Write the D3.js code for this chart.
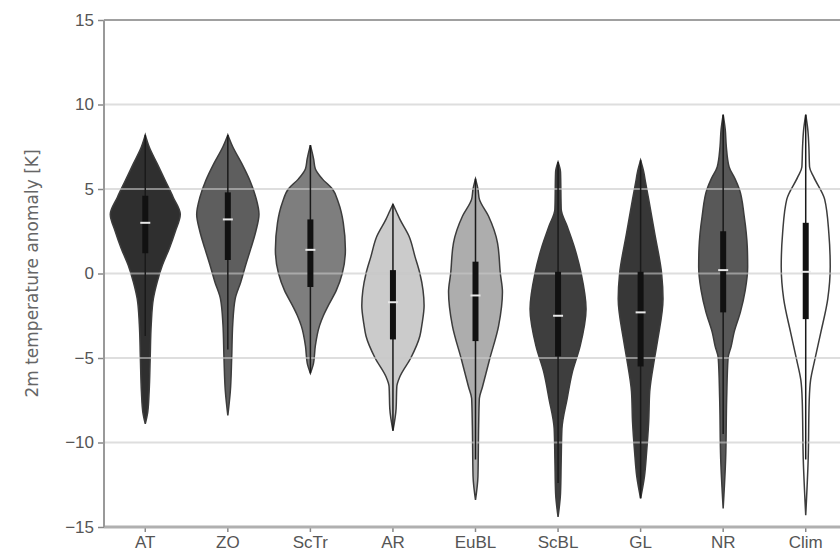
<!DOCTYPE html>
<html>
<head>
<meta charset="utf-8">
<script src="https://cdn.jsdelivr.net/npm/d3@7"></script>
<style>
  body { margin: 0; background: #fff; }
  svg { display: block; font-family: "DejaVu Sans", sans-serif; }
</style>
</head>
<body>
<div id="chart"></div>
<script>
// regimes on the x axis
const regimes = ['AT', 'ZO', 'ScTr', 'AR', 'EuBL', 'ScBL', 'GL', 'NR', 'Clim'];
const fills = ['#2f2f2f', '#5e5e5e', '#7e7e7e', '#cbcbcb', '#adadad', '#3e3e3e', '#373737', '#585858', '#ffffff'];

// violin outlines: [anomaly K, relative density]
const profAT = [[8.2,0],[7.5,0.11],[6.5,0.34],[5.5,0.57],[4.5,0.8],[3.5,1],[2.5,0.86],[1.5,0.69],[0.5,0.49],[-0.5,0.34],[-1.5,0.23],[-3,0.17],[-5,0.14],[-7,0.11],[-8.2,0.07],[-8.9,0]];
const profZO = [[8.2,0],[7.5,0.14],[6.5,0.4],[5.5,0.63],[4.5,0.8],[3.5,0.89],[2.5,0.8],[1.5,0.66],[0.5,0.51],[-0.5,0.37],[-1.5,0.21],[-3,0.14],[-5,0.11],[-7,0.07],[-8.4,0]];
const profScTr = [[7.6,0],[6.8,0.09],[6.2,0.14],[5.6,0.34],[5,0.63],[4.2,0.8],[3,0.94],[1.4,1],[0,0.91],[-1,0.74],[-1.9,0.51],[-2.5,0.37],[-3.1,0.26],[-4.3,0.14],[-5.3,0.09],[-5.9,0]];
const profAR = [[4.1,0],[3.7,0.09],[3.2,0.2],[2.2,0.46],[1,0.63],[0,0.77],[-1,0.86],[-1.9,0.89],[-3,0.83],[-3.7,0.77],[-5,0.51],[-6.1,0.2],[-6.7,0.11],[-8,0.09],[-9.3,0]];
const profEuBL = [[5.6,0],[5,0.07],[4.4,0.11],[3.4,0.37],[1.8,0.63],[0,0.71],[-1.1,0.77],[-3.1,0.66],[-5.1,0.4],[-6.7,0.2],[-7.4,0.11],[-9,0.09],[-12,0.07],[-13.4,0]];
const profScBL = [[6.6,0],[6,0.07],[3.8,0.09],[2.8,0.26],[1.6,0.46],[0,0.66],[-2.1,0.8],[-4.3,0.63],[-5.9,0.4],[-7.4,0.26],[-9.2,0.11],[-11,0.09],[-13,0.07],[-14.4,0]];
const profGL = [[6.7,0],[6,0.09],[5.4,0.14],[4.4,0.23],[2.4,0.4],[0,0.6],[-1.5,0.64],[-3.9,0.49],[-5,0.4],[-7,0.26],[-8.8,0.23],[-10.6,0.17],[-12,0.11],[-13.3,0]];
const profNR = [[9.4,0],[8.5,0.06],[7.5,0.09],[6.3,0.17],[5.6,0.34],[5,0.46],[3.4,0.6],[1.5,0.69],[0.4,0.7],[-1,0.63],[-2.3,0.49],[-3.5,0.31],[-4.3,0.23],[-5,0.14],[-7.4,0.1],[-11,0.07],[-13.9,0]];
const profClim = [[9.4,0],[8.5,0.06],[7.5,0.09],[6.3,0.11],[5.7,0.23],[4.4,0.54],[2.4,0.66],[0.4,0.7],[-1.5,0.63],[-3.5,0.43],[-5.1,0.26],[-6.3,0.14],[-7.5,0.1],[-11,0.07],[-14.3,0]];
const profiles = [profAT, profZO, profScTr, profAR, profEuBL, profScBL, profGL, profNR, profClim];

// inner box plot values
const q1 = [1.2, 0.8, -0.8, -3.9, -4.0, -4.9, -5.5, -2.3, -2.7];
const q3 = [4.6, 4.8, 3.2, 0.2, 0.7, 0.1, 0.1, 2.5, 3.0];
const medians = [3.0, 3.2, 1.4, -1.7, -1.3, -2.5, -2.3, 0.2, 0.1];
const whiskLo = [-3.7, -4.5, -5.9, -9.3, -11.0, -12.4, -13.3, -9.5, -11.0];
const whiskHi = [8.2, 8.2, 7.6, 4.1, 5.6, 6.6, 6.7, 9.4, 9.4];

const yTicks = [-15, -10, -5, 0, 5, 10, 15];

const width = 840, height = 560;
const margin = { top: 20, right: -7, bottom: 33, left: 104 };

const svg = d3.select('#chart').append('svg')
    .attr('width', width)
    .attr('height', height);

const y = d3.scaleLinear()
    .domain([-15, 15])
    .range([height - margin.bottom, margin.top]);

const x = d3.scaleBand()
    .domain(regimes)
    .range([margin.left, width - margin.right]);

const w = d3.scaleLinear().domain([0, 1]).range([0, 35]);

// violins
regimes.forEach((r, i) => {
    const cx = x(r) + x.bandwidth() / 2;
    const area = d3.area()
        .y(d => y(d[0]))
        .x0(d => cx - w(d[1]))
        .x1(d => cx + w(d[1]))
        .curve(d3.curveMonotoneY);
    svg.append('path')
        .datum(profiles[i])
        .attr('d', area)
        .attr('fill', fills[i])
        .attr('stroke', '#3c3c3c')
        .attr('stroke-width', 1.5);
});

// grid lines sit over the violins
svg.append('g')
    .selectAll('line')
    .data(yTicks.filter(t => t > -15 && t < 15))
    .join('line')
    .attr('x1', margin.left)
    .attr('x2', width)
    .attr('y1', d => y(d))
    .attr('y2', d => y(d))
    .attr('stroke', '#c8c8c8')
    .attr('stroke-opacity', 0.6)
    .attr('stroke-width', 2);

// inner box plots
regimes.forEach((r, i) => {
    const cx = x(r) + x.bandwidth() / 2;
    svg.append('line')
        .attr('x1', cx).attr('x2', cx)
        .attr('y1', y(whiskLo[i])).attr('y2', y(whiskHi[i]))
        .attr('stroke', '#1a1a1a')
        .attr('stroke-width', 1.5);
    svg.append('line')
        .attr('x1', cx).attr('x2', cx)
        .attr('y1', y(q1[i])).attr('y2', y(q3[i]))
        .attr('stroke', '#111')
        .attr('stroke-width', 6);
    svg.append('line')
        .attr('x1', cx - 5).attr('x2', cx + 5)
        .attr('y1', y(medians[i])).attr('y2', y(medians[i]))
        .attr('stroke', '#e8e8e8')
        .attr('stroke-width', 2);
});

// axes
const yAxis = svg.append('g')
    .attr('transform', `translate(${margin.left},0)`)
    .call(d3.axisLeft(y).tickValues(yTicks).tickSize(6).tickPadding(4)
        .tickFormat(d => d < 0 ? '\u2212' + Math.abs(d) : d));
yAxis.select('.domain').remove();
yAxis.selectAll('line').attr('stroke', '#888').attr('stroke-width', 1.5);
yAxis.selectAll('text').attr('fill', '#555').attr('font-size', 17);

const xAxis = svg.append('g')
    .attr('transform', `translate(0,${height - margin.bottom})`)
    .call(d3.axisBottom(x).tickSize(5).tickPadding(4));
xAxis.select('.domain').remove();
xAxis.selectAll('line').attr('stroke', '#888').attr('stroke-width', 1.5);
xAxis.selectAll('text').attr('fill', '#555').attr('font-size', 17);

// spines
svg.append('line')
    .attr('x1', margin.left).attr('x2', width)
    .attr('y1', y(15)).attr('y2', y(15))
    .attr('stroke', '#a0a0a0').attr('stroke-width', 2);
svg.append('line')
    .attr('x1', margin.left).attr('x2', width)
    .attr('y1', y(-15)).attr('y2', y(-15))
    .attr('stroke', '#b0b0b0').attr('stroke-width', 3);
svg.append('line')
    .attr('x1', margin.left).attr('x2', margin.left)
    .attr('y1', y(15)).attr('y2', y(-15))
    .attr('stroke', '#999').attr('stroke-width', 2);

svg.append('text')
    .attr('transform', `translate(33,${(y(15) + y(-15)) / 2}) rotate(-90)`)
    .attr('text-anchor', 'middle')
    .attr('dominant-baseline', 'middle')
    .attr('fill', '#666')
    .attr('font-size', 17)
    .text('2m temperature anomaly [K]');
</script>
</body>
</html>
